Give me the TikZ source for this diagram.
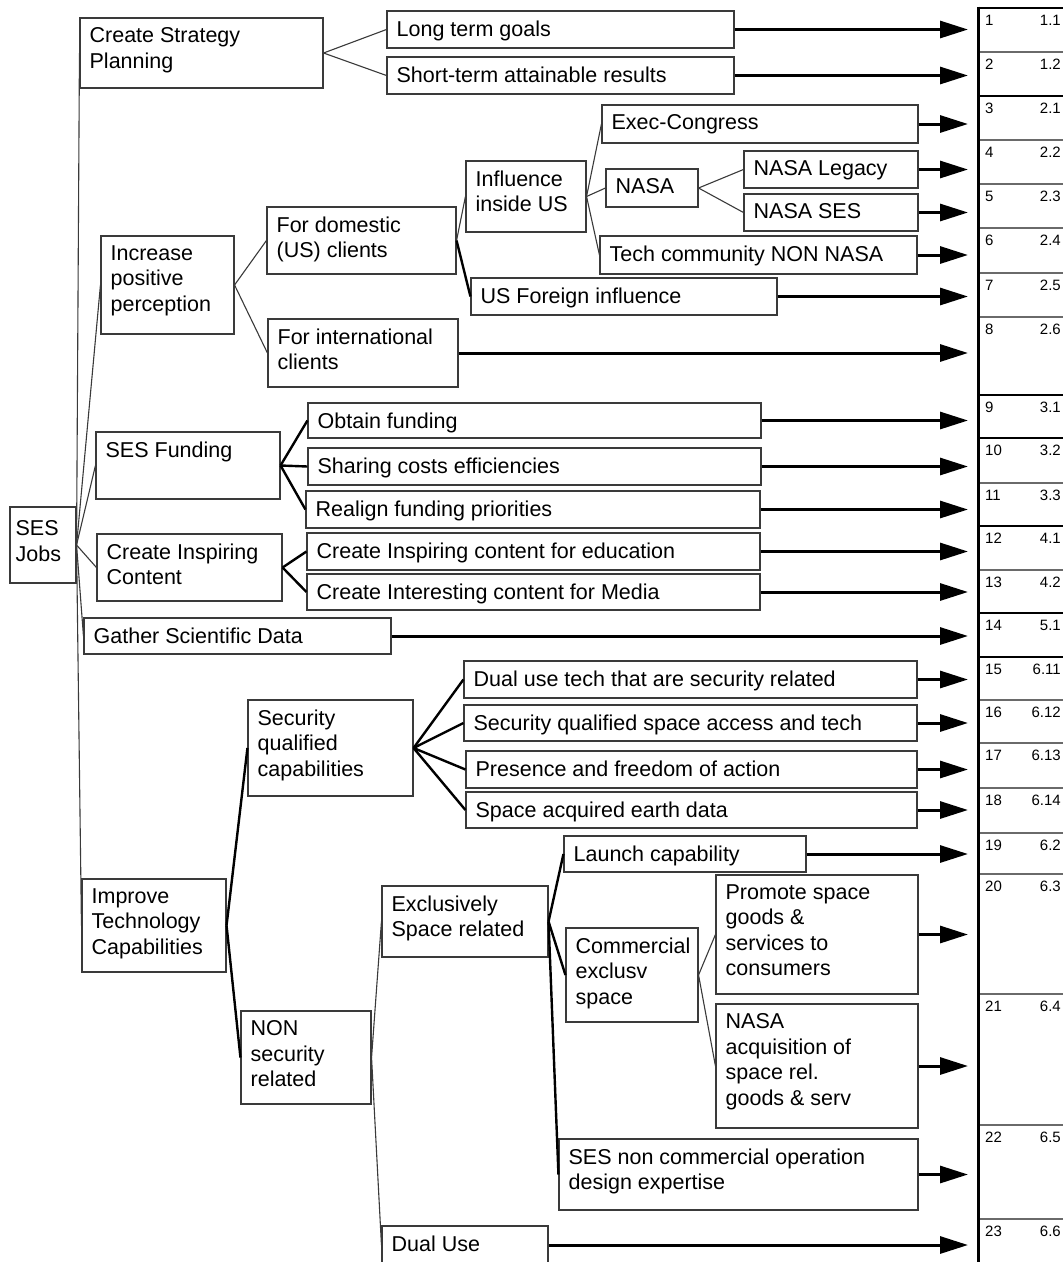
\documentclass[tikz,border=0pt]{standalone}
\usepackage{fontspec}
\setmainfont{Liberation Sans}
\usetikzlibrary{fit,arrows.meta}
\definecolor{BoxLine}{HTML}{3A3A3A}
\definecolor{RowGray}{HTML}{6A6A6A}

\begin{document}
\begin{tikzpicture}[x=1pt, y=-1pt,
    jobbox/.style={draw=BoxLine, line width=1.1pt, inner sep=0pt},
    lbl/.style={anchor=north west, align=left, inner xsep=10pt, inner ysep=10pt,
                font=\fontsize{21.5}{25.5}\selectfont},
    link/.style={draw=BoxLine, line width=1.1pt},
    blink/.style={draw=black, line width=2.4pt},
    arr/.style={-{Triangle[length=28pt,width=17pt]}, line width=3pt},
    num/.style={inner sep=0pt, font=\fontsize{15}{16}\selectfont},
  ]
    \fill[white] (0,0) rectangle (1063,1262);
    \useasboundingbox (0,0) rectangle (1063,1262);
    \clip (0,0) rectangle (1063,1262);

    % Root
    \node[jobbox, fit={(10,507) (76,583)}, label={[lbl, inner xsep=6pt, inner ysep=14pt]north west:{SES\\Jobs}}] (ses) {};

    % Strategy
    \node[jobbox, fit={(80,18) (323,88)}, label={[lbl]north west:{Create Strategy\\Planning}}] (csp) {};
    \node[jobbox, fit={(387,11) (734,48)}, label={[lbl]north west:{Long term goals}}] (ltg) {};
    \node[jobbox, fit={(387,57) (734,94)}, label={[lbl]north west:{Short-term attainable results}}] (str) {};

    % Perception
    \node[jobbox, fit={(101,236) (234,334)}, label={[lbl]north west:{Increase\\positive\\perception}}] (ipp) {};
    \node[jobbox, fit={(267,207) (456,274)}, label={[lbl]north west:{For domestic\\(US) clients}}] (dom) {};
    \node[jobbox, fit={(268,319) (458,387)}, label={[lbl]north west:{For international\\clients}}] (intl) {};
    \node[jobbox, fit={(466,161) (586,232)}, label={[lbl]north west:{Influence\\inside US}}] (inf) {};
    \node[jobbox, fit={(471,278) (777,315)}, label={[lbl]north west:{US Foreign influence}}] (usf) {};
    \node[jobbox, fit={(602,105) (918,143)}, label={[lbl]north west:{Exec-Congress}}] (exe) {};
    \node[jobbox, fit={(606,169) (698,207)}, label={[lbl]north west:{NASA}}] (nasa) {};
    \node[jobbox, fit={(744,151) (918,188)}, label={[lbl]north west:{NASA Legacy}}] (nleg) {};
    \node[jobbox, fit={(744,194) (918,231)}, label={[lbl]north west:{NASA SES}}] (nses) {};
    \node[jobbox, fit={(600,236) (917,274)}, label={[lbl]north west:{Tech community NON NASA}}] (tech) {};

    % Funding
    \node[jobbox, fit={(96,432) (280,499)}, label={[lbl]north west:{SES Funding}}] (fund) {};
    \node[jobbox, fit={(308,403) (761,438)}, label={[lbl]north west:{Obtain funding}}] (obt) {};
    \node[jobbox, fit={(308,448) (761,485)}, label={[lbl]north west:{Sharing costs efficiencies}}] (shr) {};
    \node[jobbox, fit={(306,491) (760,528)}, label={[lbl]north west:{Realign funding priorities}}] (rea) {};

    % Content
    \node[jobbox, fit={(97,534) (282,601)}, label={[lbl]north west:{Create Inspiring\\Content}}] (cic) {};
    \node[jobbox, fit={(307,533) (760,570)}, label={[lbl]north west:{Create Inspiring content for education}}] (edu) {};
    \node[jobbox, fit={(307,574) (760,610)}, label={[lbl]north west:{Create Interesting content for Media}}] (med) {};
    \node[jobbox, fit={(84,618) (391,654)}, label={[lbl]north west:{Gather Scientific Data}}] (gsd) {};

    % Technology
    \node[jobbox, fit={(82,879) (226,972)}, label={[lbl]north west:{Improve\\Technology\\Capabilities}}] (itc) {};
    \node[jobbox, fit={(248,700) (413,796)}, label={[lbl]north west:{Security\\qualified\\capabilities}}] (sqc) {};
    \node[jobbox, fit={(464,661) (917,698)}, label={[lbl]north west:{Dual use tech that are security related}}] (dut) {};
    \node[jobbox, fit={(464,705) (917,741)}, label={[lbl]north west:{Security qualified space access and tech}}] (sqs) {};
    \node[jobbox, fit={(466,751) (917,788)}, label={[lbl]north west:{Presence and freedom of action}}] (pfa) {};
    \node[jobbox, fit={(466,792) (917,828)}, label={[lbl]north west:{Space acquired earth data}}] (sae) {};
    \node[jobbox, fit={(241,1011) (371,1104)}, label={[lbl]north west:{NON\\security\\related}}] (nsr) {};
    \node[jobbox, fit={(382,886) (548,957)}, label={[lbl]north west:{Exclusively\\Space related}}] (esr) {};
    \node[jobbox, fit={(564,836) (806,872)}, label={[lbl]north west:{Launch capability}}] (lch) {};
    \node[jobbox, fit={(566,928) (698,1022)}, label={[lbl]north west:{Commercial\\exclusv\\space}}] (ces) {};
    \node[jobbox, fit={(716,875) (918,994)}, label={[lbl]north west:{Promote space\\goods \&\\services to\\consumers}}] (psg) {};
    \node[jobbox, fit={(716,1004) (918,1128)}, label={[lbl]north west:{NASA\\acquisition of\\space rel.\\goods \& serv}}] (nacq) {};
    \node[jobbox, fit={(559,1139) (918,1210)}, label={[lbl]north west:{SES non commercial operation\\design expertise}}] (snc) {};
    \node[jobbox, fit={(382,1226) (548,1264)}, label={[lbl]north west:{Dual Use}}] (dual) {};

    % Tree links
    \foreach \n in {csp,ipp,fund,cic,gsd,itc}
      \draw[link] (ses.east) -- (\n.west);
    \draw[link] (csp.east) -- (ltg.west);
    \draw[link] (csp.east) -- (str.west);
    \draw[link] (ipp.east) -- (dom.west);
    \draw[link] (ipp.east) -- (intl.west);
    \draw[link] (dom.east) -- (inf.west);
    \draw[blink] (dom.east) -- (usf.west);
    \foreach \n in {exe,nasa,tech}
      \draw[link] (inf.east) -- (\n.west);
    \draw[link] (nasa.east) -- (nleg.west);
    \draw[link] (nasa.east) -- (nses.west);
    \foreach \n in {obt,shr,rea}
      \draw[blink] (fund.east) -- (\n.west);
    \draw[blink] (cic.east) -- (edu.west);
    \draw[blink] (cic.east) -- (med.west);
    \draw[blink] (itc.east) -- (sqc.west);
    \draw[blink] (itc.east) -- (nsr.west);
    \foreach \n in {dut,sqs,pfa,sae}
      \draw[blink] (sqc.east) -- (\n.west);
    \draw[link] (nsr.east) -- (esr.west);
    \draw[link] (nsr.east) -- (dual.west);
    \foreach \n in {lch,ces,snc}
      \draw[blink] (esr.east) -- (\n.west);
    \draw[link] (ces.east) -- (psg.west);
    \draw[link] (ces.east) -- (nacq.west);

    % Arrows into the table
    \coordinate (tab) at (968,0);
    \foreach \n in {ltg,str,exe,nleg,nses,tech,usf,intl,obt,shr,rea,edu,med,gsd,
                    dut,sqs,pfa,sae,lch,psg,nacq,snc,dual}
      \draw[arr] (\n.east) -- (\n.east -| tab);

    % Table
    \foreach \r/\c/\y in {1/1.1/8, 2/1.2/52, 3/2.1/96, 4/2.2/140, 5/2.3/184,
        6/2.4/228, 7/2.5/273, 8/2.6/317, 9/3.1/395, 10/3.2/438, 11/3.3/483,
        12/4.1/526, 13/4.2/570, 14/5.1/613, 15/6.11/657, 16/6.12/700,
        17/6.13/743, 18/6.14/788, 19/6.2/833, 20/6.3/874, 21/6.4/994,
        22/6.5/1125, 23/6.6/1219} {
      \draw[RowGray, line width=1.2pt] (978,\y) -- (1070,\y);
      \node[num, anchor=north west] at (985,\y+7) {\r};
      \node[num, anchor=north east] at (1061,\y+7) {\c};
    }
    \foreach \y in {8,96,395,438,526,613,657}
      \draw[black, line width=2.6pt] (978,\y) -- (1070,\y);
    \draw[black, line width=3pt] (978,6.7) -- (978,1270);
\end{tikzpicture}
\end{document}
